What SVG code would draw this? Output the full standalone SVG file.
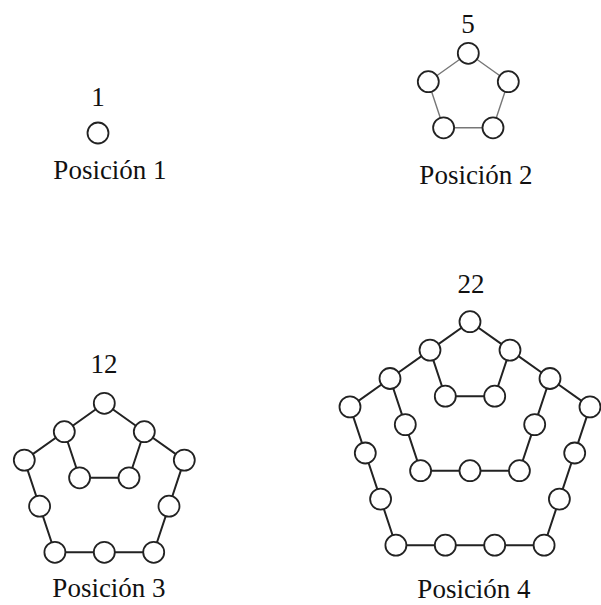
<svg xmlns="http://www.w3.org/2000/svg" width="601" height="605" viewBox="0 0 601 605">
<style>
.bg{fill:#fff}
.n{fill:#fff;stroke:#222;stroke-width:1.8}
.e{stroke:#222;stroke-width:2;fill:none;stroke-linejoin:round}
.e2{stroke:#777;stroke-width:1.4;fill:none}
.t{font-family:"Liberation Serif","Times New Roman",serif;font-size:27px;fill:#111;text-anchor:middle}
</style>
<rect class="bg" x="0" y="0" width="601" height="605"/>
<g id="connectors">
  <polygon class="e2" points="468.3,53.3 508.3,81.7 493,127.8 443.6,127.8 428.3,81.7"/>
  <polyline class="e" points="104.3,403.3 64.3,431.7 79.6,477.8 129,477.8 144.3,431.7 104.3,403.3"/>
  <polyline class="e" points="64.3,431.7 24.3,460.1 39.6,506.2 54.9,552.3 104.3,552.3 153.7,552.3 169,506.2 184.3,460.1 144.3,431.7"/>
  <polyline class="e" points="470,321.7 430,350.1 445.3,396.2 494.7,396.2 510,350.1 470,321.7"/>
  <polyline class="e" points="430,350.1 390,378.5 405.3,424.6 420.6,470.7 470,470.7 519.4,470.7 534.7,424.6 550,378.5 510,350.1"/>
  <polyline class="e" points="390,378.5 350,406.9 365.3,453 380.6,499.1 395.9,545.2 445.3,545.2 494.7,545.2 544.1,545.2 559.4,499.1 574.7,453 590,406.9 550,378.5"/>
</g>
<g id="pos1">
  <text class="t" x="98" y="106">1</text>
  <circle class="n" cx="98" cy="133" r="10.5"/>
  <text class="t" x="110" y="179">Posición 1</text>
</g>
<g id="pos2">
  <text class="t" x="468" y="33">5</text>
  <circle class="n" cx="468.3" cy="53.3" r="10.5"/>
  <circle class="n" cx="428.3" cy="81.7" r="10.5"/>
  <circle class="n" cx="508.3" cy="81.7" r="10.5"/>
  <circle class="n" cx="443.6" cy="127.8" r="10.5"/>
  <circle class="n" cx="493" cy="127.8" r="10.5"/>
  <text class="t" x="476" y="184">Posición 2</text>
</g>
<g id="pos3">
  <text class="t" x="104" y="373">12</text>
  <circle class="n" cx="104.3" cy="403.3" r="10.5"/>
  <circle class="n" cx="64.3" cy="431.7" r="10.5"/>
  <circle class="n" cx="144.3" cy="431.7" r="10.5"/>
  <circle class="n" cx="79.6" cy="477.8" r="10.5"/>
  <circle class="n" cx="129" cy="477.8" r="10.5"/>
  <circle class="n" cx="24.3" cy="460.1" r="10.5"/>
  <circle class="n" cx="184.3" cy="460.1" r="10.5"/>
  <circle class="n" cx="39.6" cy="506.2" r="10.5"/>
  <circle class="n" cx="169" cy="506.2" r="10.5"/>
  <circle class="n" cx="54.9" cy="552.3" r="10.5"/>
  <circle class="n" cx="104.3" cy="552.3" r="10.5"/>
  <circle class="n" cx="153.7" cy="552.3" r="10.5"/>
  <text class="t" x="109" y="597">Posición 3</text>
</g>
<g id="pos4">
  <text class="t" x="471" y="293">22</text>
  <circle class="n" cx="470" cy="321.7" r="10.5"/>
  <circle class="n" cx="430" cy="350.1" r="10.5"/>
  <circle class="n" cx="510" cy="350.1" r="10.5"/>
  <circle class="n" cx="445.3" cy="396.2" r="10.5"/>
  <circle class="n" cx="494.7" cy="396.2" r="10.5"/>
  <circle class="n" cx="390" cy="378.5" r="10.5"/>
  <circle class="n" cx="550" cy="378.5" r="10.5"/>
  <circle class="n" cx="405.3" cy="424.6" r="10.5"/>
  <circle class="n" cx="534.7" cy="424.6" r="10.5"/>
  <circle class="n" cx="420.6" cy="470.7" r="10.5"/>
  <circle class="n" cx="470" cy="470.7" r="10.5"/>
  <circle class="n" cx="519.4" cy="470.7" r="10.5"/>
  <circle class="n" cx="350" cy="406.9" r="10.5"/>
  <circle class="n" cx="590" cy="406.9" r="10.5"/>
  <circle class="n" cx="365.3" cy="453" r="10.5"/>
  <circle class="n" cx="574.7" cy="453" r="10.5"/>
  <circle class="n" cx="380.6" cy="499.1" r="10.5"/>
  <circle class="n" cx="559.4" cy="499.1" r="10.5"/>
  <circle class="n" cx="395.9" cy="545.2" r="10.5"/>
  <circle class="n" cx="445.3" cy="545.2" r="10.5"/>
  <circle class="n" cx="494.7" cy="545.2" r="10.5"/>
  <circle class="n" cx="544.1" cy="545.2" r="10.5"/>
  <text class="t" x="474" y="598">Posición 4</text>
</g>
</svg>
